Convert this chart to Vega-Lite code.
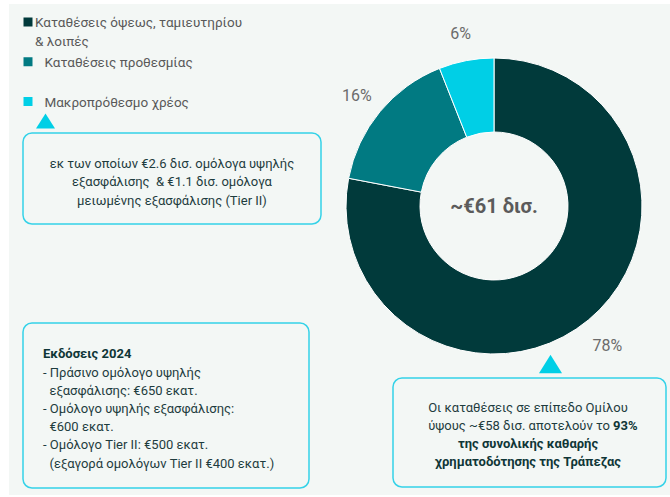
{
  "$schema": "https://vega.github.io/schema/vega-lite/v6.json",
  "width": 670,
  "height": 497,
  "padding": 0,
  "autosize": {"type": "none"},
  "background": "#ffffff",
  "view": {"stroke": null},
  "config": {"font": "Roboto"},
  "datasets": {
    "slices": [
      {"cat": "Καταθέσεις όψεως, ταμιευτηρίου & λοιπές", "legend": "Καταθέσεις όψεως, ταμιευτηρίου\n& λοιπές", "value": 78, "label": "78%", "order": 1},
      {"cat": "Καταθέσεις προθεσμίας", "legend": "\u200b\u00a0\u00a0\u2009Καταθέσεις προθεσμίας", "value": 16, "label": "16%", "order": 2},
      {"cat": "Μακροπρόθεσμο χρέος", "legend": "\u200b\u00a0\u00a0\u2009Μακροπρόθεσμο χρέος", "value": 6, "label": "6%", "order": 3}
    ]
  },
  "resolve": {"scale": {"y": "independent"}},
  "layer": [
    {
      "data": {"values": [{}]},
      "mark": {"type": "rect", "fill": "#f3f7f5"},
      "encoding": {
        "x": {"datum": 9, "type": "quantitative", "scale": {"type": "linear", "domain": [0, 670], "nice": false, "zero": false}, "axis": null},
        "x2": {"datum": 670},
        "y": {"datum": 4, "type": "quantitative", "scale": {"type": "linear", "domain": [0, 497], "nice": false, "zero": false, "reverse": true}, "axis": null},
        "y2": {"datum": 495}
      }
    },
    {
      "data": {"name": "slices"},
      "mark": {"type": "arc", "innerRadius": 74, "outerRadius": 148, "stroke": "#ffffff", "strokeWidth": 1},
      "encoding": {
        "theta": {"field": "value", "type": "quantitative", "stack": true},
        "order": {"field": "order", "type": "quantitative"},
        "color": {"field": "cat", "type": "nominal", "legend": null, "scale": {"domain": ["Καταθέσεις όψεως, ταμιευτηρίου & λοιπές", "Καταθέσεις προθεσμίας", "Μακροπρόθεσμο χρέος"], "range": ["#013a3b", "#017a82", "#00cfe6"]}},
        "x": {"datum": 494, "type": "quantitative"},
        "y": {"datum": 206, "type": "quantitative", "scale": {"type": "linear", "domain": [0, 497], "nice": false, "zero": false, "reverse": true}, "axis": null}
      }
    },
    {
      "data": {"name": "slices"},
      "mark": {"type": "text", "radius": 178, "fontSize": 16, "fill": "#6b6b6b", "font": "Roboto", "baseline": "middle", "dy": 3},
      "encoding": {
        "theta": {"field": "value", "type": "quantitative", "stack": true},
        "order": {"field": "order", "type": "quantitative"},
        "text": {"field": "label"},
        "x": {"datum": 494, "type": "quantitative"},
        "y": {"datum": 206, "type": "quantitative", "scale": {"type": "linear", "domain": [0, 497], "nice": false, "zero": false, "reverse": true}, "axis": null}
      }
    },
    {
      "data": {"values": [{"t": "~€61 δισ."}]},
      "mark": {"type": "text", "fontSize": 20, "fontWeight": "bold", "fill": "#5b5b5b", "align": "center", "baseline": "middle"},
      "encoding": {
        "text": {"field": "t"},
        "x": {"datum": 494, "type": "quantitative"},
        "y": {"datum": 207, "type": "quantitative", "scale": {"type": "linear", "domain": [0, 497], "nice": false, "zero": false, "reverse": true}, "axis": null}
      }
    },
    {
      "data": {"name": "slices"},
      "mark": {"type": "point", "shape": "square", "size": 81, "filled": true, "opacity": 1},
      "encoding": {
        "color": {"field": "cat", "type": "nominal", "legend": null},
        "x": {"datum": 28, "type": "quantitative"},
        "y": {"field": "cat", "type": "nominal", "scale": {"type": "point", "domain": ["Καταθέσεις όψεως, ταμιευτηρίου & λοιπές", "Καταθέσεις προθεσμίας", "Μακροπρόθεσμο χρέος"], "range": [22, 101.5], "padding": 0}, "axis": null}
      }
    },
    {
      "data": {"name": "slices"},
      "mark": {"type": "text", "fontSize": 13.5, "fill": "#595959", "align": "left", "baseline": "alphabetic", "dy": 5, "lineBreak": "\n", "lineHeight": 18.5},
      "encoding": {
        "text": {"field": "legend"},
        "x": {"datum": 35, "type": "quantitative"},
        "y": {"field": "cat", "type": "nominal", "scale": {"type": "point", "domain": ["Καταθέσεις όψεως, ταμιευτηρίου & λοιπές", "Καταθέσεις προθεσμίας", "Μακροπρόθεσμο χρέος"], "range": [22, 101.5], "padding": 0}, "axis": null}
      }
    },
    {
      "data": {"values": [{}]},
      "mark": {"type": "rect", "fill": "#f3f7f5", "stroke": "#35d2e8", "strokeWidth": 1.5, "cornerRadius": 9},
      "encoding": {
        "x": {"datum": 23, "type": "quantitative"},
        "x2": {"datum": 321},
        "y": {"datum": 133, "type": "quantitative", "scale": {"type": "linear", "domain": [0, 497], "nice": false, "zero": false, "reverse": true}, "axis": null},
        "y2": {"datum": 224}
      }
    },
    {
      "data": {"values": [{}]},
      "mark": {"type": "rect", "fill": "#f3f7f5", "stroke": "#35d2e8", "strokeWidth": 1.5, "cornerRadius": 9},
      "encoding": {
        "x": {"datum": 23, "type": "quantitative"},
        "x2": {"datum": 309},
        "y": {"datum": 323, "type": "quantitative", "scale": {"type": "linear", "domain": [0, 497], "nice": false, "zero": false, "reverse": true}, "axis": null},
        "y2": {"datum": 488}
      }
    },
    {
      "data": {"values": [{}]},
      "mark": {"type": "rect", "fill": "#f3f7f5", "stroke": "#35d2e8", "strokeWidth": 1.5, "cornerRadius": 9},
      "encoding": {
        "x": {"datum": 393, "type": "quantitative"},
        "x2": {"datum": 666},
        "y": {"datum": 378, "type": "quantitative", "scale": {"type": "linear", "domain": [0, 497], "nice": false, "zero": false, "reverse": true}, "axis": null},
        "y2": {"datum": 487}
      }
    },
    {
      "data": {"values": [{}]},
      "mark": {"type": "point", "shape": "M0,-0.8L1,0.8L-1,0.8Z", "size": 361, "filled": true, "fill": "#00cfe6", "opacity": 1, "strokeWidth": 0},
      "encoding": {
        "x": {"datum": 45.5, "type": "quantitative"},
        "y": {"datum": 121, "type": "quantitative", "scale": {"type": "linear", "domain": [0, 497], "nice": false, "zero": false, "reverse": true}, "axis": null}
      }
    },
    {
      "data": {"values": [{}]},
      "mark": {"type": "point", "shape": "M0,-0.8L1,0.8L-1,0.8Z", "size": 529, "filled": true, "fill": "#00cfe6", "opacity": 1, "strokeWidth": 0},
      "encoding": {
        "x": {"datum": 550.5, "type": "quantitative"},
        "y": {"datum": 364, "type": "quantitative", "scale": {"type": "linear", "domain": [0, 497], "nice": false, "zero": false, "reverse": true}, "axis": null}
      }
    },
    {
      "data": {"values": [{"t": "εκ των οποίων €2.6 δισ. ομόλογα υψηλής\nεξασφάλισης\u00a0\u00a0& €1.1 δισ. ομόλογα\nμειωμένης εξασφάλισης (Tier II)"}]},
      "mark": {"type": "text", "fontSize": 13, "fill": "#1e3c3e", "align": "center", "baseline": "alphabetic", "lineBreak": "\n", "lineHeight": 18.5},
      "encoding": {
        "text": {"field": "t"},
        "x": {"datum": 172, "type": "quantitative"},
        "y": {"datum": 167.5, "type": "quantitative", "scale": {"type": "linear", "domain": [0, 497], "nice": false, "zero": false, "reverse": true}, "axis": null}
      }
    },
    {
      "data": {"values": [{"t": "Εκδόσεις 2024"}]},
      "mark": {"type": "text", "fontSize": 13, "fontWeight": "bold", "fill": "#0f3637", "align": "left", "baseline": "alphabetic"},
      "encoding": {
        "text": {"field": "t"},
        "x": {"datum": 43, "type": "quantitative"},
        "y": {"datum": 357.5, "type": "quantitative", "scale": {"type": "linear", "domain": [0, 497], "nice": false, "zero": false, "reverse": true}, "axis": null}
      }
    },
    {
      "data": {"values": [{"t": "- Πράσινο ομόλογο υψηλής\n\u200b\u00a0\u00a0εξασφάλισης: €650 εκατ.\n- Ομόλογο υψηλής εξασφάλισης:\n\u200b\u00a0\u00a0€600 εκατ.\n- Ομόλογο Tier II: €500 εκατ.\n\u200b\u00a0\u00a0(εξαγορά ομολόγων Tier II €400 εκατ.)"}]},
      "mark": {"type": "text", "fontSize": 13, "fill": "#1e3c3e", "align": "left", "baseline": "alphabetic", "lineBreak": "\n", "lineHeight": 18.2},
      "encoding": {
        "text": {"field": "t"},
        "x": {"datum": 43, "type": "quantitative"},
        "y": {"datum": 376.5, "type": "quantitative", "scale": {"type": "linear", "domain": [0, 497], "nice": false, "zero": false, "reverse": true}, "axis": null}
      }
    },
    {
      "data": {"values": [{"t": "Οι καταθέσεις σε επίπεδο Ομίλου"}]},
      "mark": {"type": "text", "fontSize": 13, "fill": "#1e3c3e", "align": "center", "baseline": "alphabetic"},
      "encoding": {
        "text": {"field": "t"},
        "x": {"datum": 528, "type": "quantitative"},
        "y": {"datum": 411.5, "type": "quantitative", "scale": {"type": "linear", "domain": [0, 497], "nice": false, "zero": false, "reverse": true}, "axis": null}
      }
    },
    {
      "data": {"values": [{"t": "ύψους ~€58 δισ. αποτελούν το"}]},
      "mark": {"type": "text", "fontSize": 13, "fill": "#1e3c3e", "align": "right", "baseline": "alphabetic"},
      "encoding": {
        "text": {"field": "t"},
        "x": {"datum": 610, "type": "quantitative"},
        "y": {"datum": 429.5, "type": "quantitative", "scale": {"type": "linear", "domain": [0, 497], "nice": false, "zero": false, "reverse": true}, "axis": null}
      }
    },
    {
      "data": {"values": [{"t": "93%"}]},
      "mark": {"type": "text", "fontSize": 13, "fontWeight": "bold", "fill": "#0f3637", "align": "left", "baseline": "alphabetic"},
      "encoding": {
        "text": {"field": "t"},
        "x": {"datum": 613, "type": "quantitative"},
        "y": {"datum": 429.5, "type": "quantitative", "scale": {"type": "linear", "domain": [0, 497], "nice": false, "zero": false, "reverse": true}, "axis": null}
      }
    },
    {
      "data": {"values": [{"t": "της συνολικής καθαρής\nχρηματοδότησης της Τράπεζας"}]},
      "mark": {"type": "text", "fontSize": 13, "fontWeight": "bold", "fill": "#0f3637", "align": "center", "baseline": "alphabetic", "lineBreak": "\n", "lineHeight": 18.5},
      "encoding": {
        "text": {"field": "t"},
        "x": {"datum": 528, "type": "quantitative"},
        "y": {"datum": 447.5, "type": "quantitative", "scale": {"type": "linear", "domain": [0, 497], "nice": false, "zero": false, "reverse": true}, "axis": null}
      }
    }
  ]
}
